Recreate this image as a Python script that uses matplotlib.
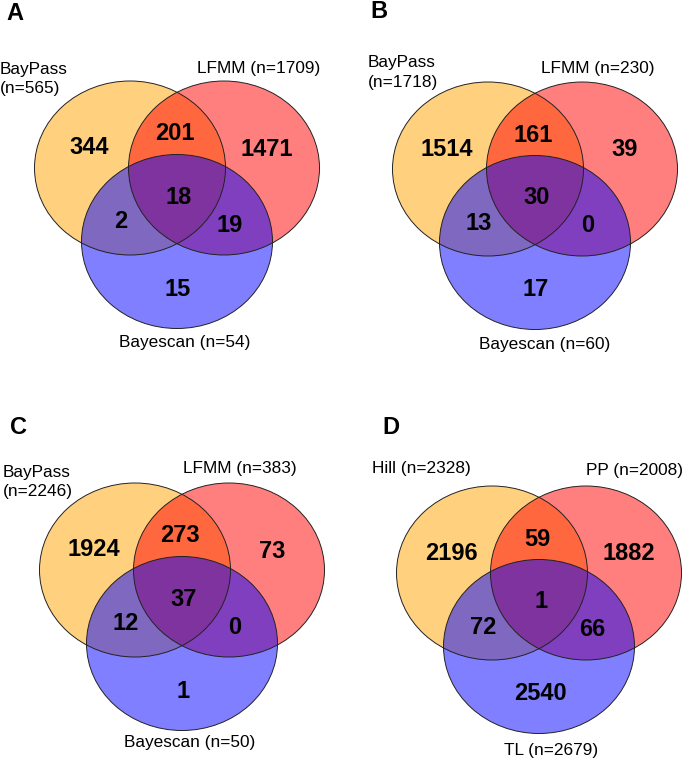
import matplotlib.pyplot as plt
from matplotlib.patches import Ellipse

plt.rcParams['font.family'] = ['Liberation Sans', 'DejaVu Sans']

# region counts: only1, 1&2, only2, 1&2&3, 1&3, 2&3, only3
panel_letters = ['A', 'B', 'C', 'D']
set1_labels = ['BayPass\n(n=565)', 'BayPass\n(n=1718)', 'BayPass\n(n=2246)', 'Hill (n=2328)']
set2_labels = ['LFMM (n=1709)', 'LFMM (n=230)', 'LFMM (n=383)', 'PP (n=2008)']
set3_labels = ['Bayescan (n=54)', 'Bayescan (n=60)', 'Bayescan (n=50)', 'TL (n=2679)']
counts_a = [344, 201, 1471, 18, 2, 19, 15]
counts_b = [1514, 161, 39, 30, 13, 0, 17]
counts_c = [1924, 273, 73, 37, 12, 0, 1]
counts_d = [2196, 59, 1882, 1, 72, 66, 2540]
all_counts = [counts_a, counts_b, counts_c, counts_d]

# layout (pixels)
W, H = 685, 759
offsets = [(0, 0), (358, 1), (5, 402), (362, 405)]
circle_centers = [(130, 168), (224, 168), (177, 241.5)]
circle_w, circle_h = 191, 174
fills = ['orange', 'red', 'blue']
region_pos = [(89, 148), (175, 134), (267, 149), (179, 197), (121, 222), (230, 225), (178, 289)]

letter_pos = [(6, 13), (370, 12), (10, 428), (382, 428)]
set1_pos = [(0, 79, 'left'), (368, 72.5, 'left'), (3, 482, 'left'), (372, 469, 'left')]
set2_pos = [(320, 68, 'right'), (655, 68, 'right'), (297, 469, 'right'), (683, 470, 'right')]
set3_pos = [(185, 342), (545, 344), (190, 743), (551, 750)]

fig = plt.figure(figsize=(W / 100, H / 100), dpi=100)
ax = fig.add_axes([0, 0, 1, 1])
ax.set_xlim(0, W)
ax.set_ylim(H, 0)
ax.axis('off')

for i, counts in enumerate(all_counts):
    ox, oy = offsets[i]
    for (cx, cy), c in zip(circle_centers, fills):
        ax.add_patch(Ellipse((ox + cx, oy + cy), circle_w, circle_h, facecolor=c, alpha=0.5, edgecolor='none'))
    for cx, cy in circle_centers:
        ax.add_patch(Ellipse((ox + cx, oy + cy), circle_w, circle_h, facecolor='none', edgecolor='#222222', lw=0.7))
    for (rx, ry), n in zip(region_pos, counts):
        ax.text(ox + rx, oy + ry, str(n), ha='center', va='center', fontsize=17, fontweight='bold')

    lx, ly = letter_pos[i]
    ax.text(lx, ly, panel_letters[i], ha='left', va='center', fontsize=17, fontweight='bold')
    x1, y1, ha1 = set1_pos[i]
    ax.text(x1, y1, set1_labels[i], ha=ha1, va='center', fontsize=12.4, linespacing=1.35)
    x2, y2, ha2 = set2_pos[i]
    ax.text(x2, y2, set2_labels[i], ha=ha2, va='center', fontsize=12.4)
    x3, y3 = set3_pos[i]
    ax.text(x3, y3, set3_labels[i], ha='center', va='center', fontsize=12.4)

fig.savefig('out.png', dpi=100)
